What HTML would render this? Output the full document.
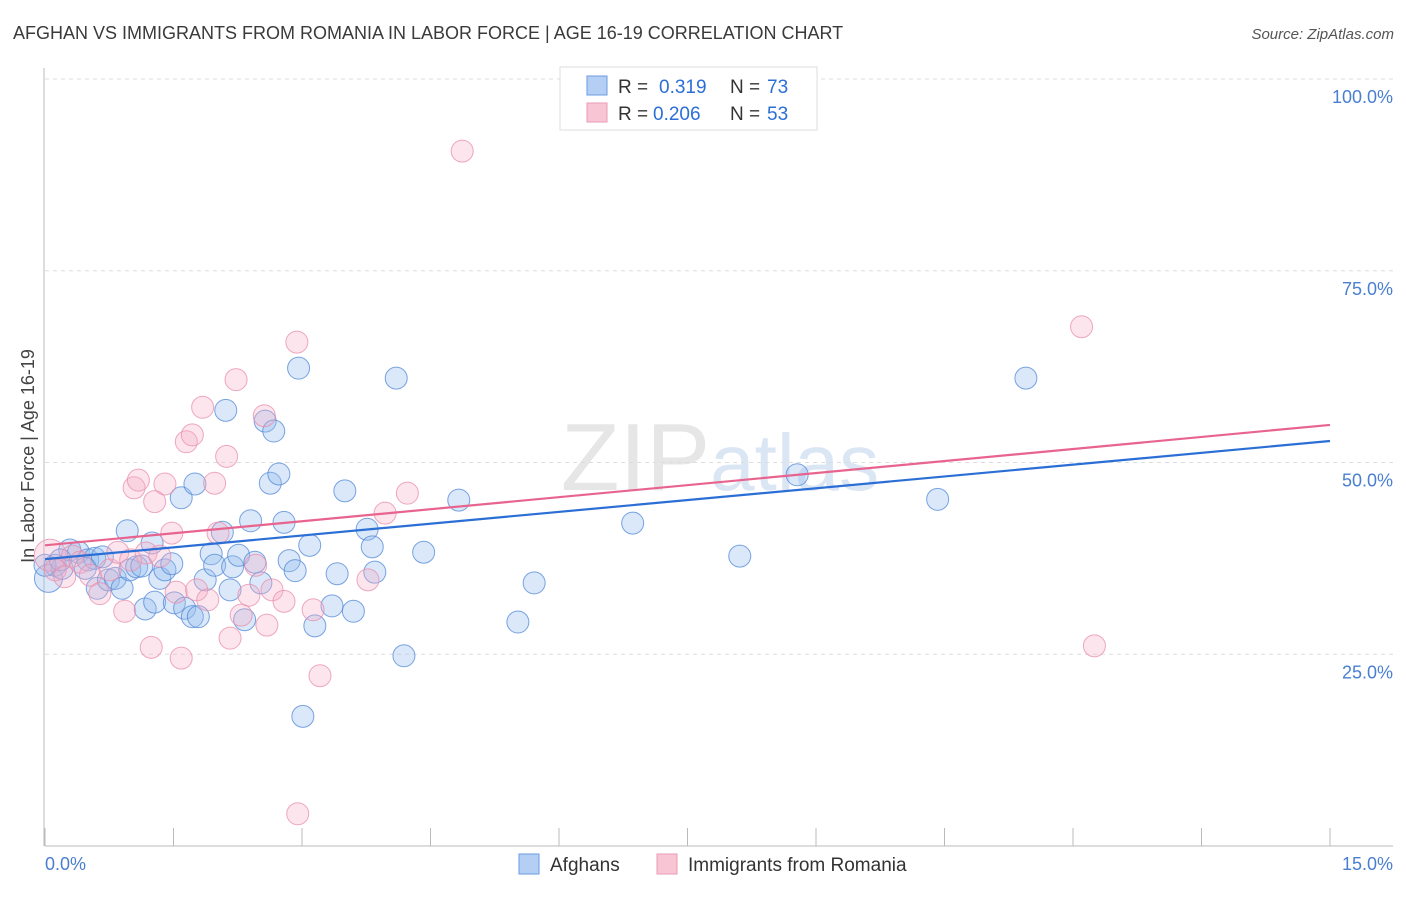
<!DOCTYPE html>
<html><head><meta charset="utf-8"><style>
body{margin:0;background:#fff;font-family:"Liberation Sans",sans-serif;}
svg text{font-family:"Liberation Sans",sans-serif;}
</style></head><body>
<svg id="chart" width="1406" height="892" viewBox="0 0 1406 892" xmlns="http://www.w3.org/2000/svg">
<text x="13" y="39" font-size="18" fill="#3a3a3a">AFGHAN VS IMMIGRANTS FROM ROMANIA IN LABOR FORCE | AGE 16-19 CORRELATION CHART</text>
<text x="1394" y="39" font-size="15" fill="#555" text-anchor="end" font-style="italic">Source: ZipAtlas.com</text>
<text x="720" y="490" font-size="96" fill="#e6e6e6" text-anchor="middle" font-family="Liberation Serif">ZIP<tspan fill="#dbe6f4" font-family="Liberation Sans" font-size="80">atlas</tspan></text>
<g id="grid"></g>
<g id="axes"></g>
<g id="pts"></g>
<g id="lines"></g>
<text transform="translate(34,456) rotate(-90)" font-size="18" fill="#444" text-anchor="middle">In Labor Force | Age 16-19</text>
<text x="45" y="870" font-size="18" fill="#4a7fd0">0.0%</text>
<text x="1393" y="870" font-size="18" fill="#4a7fd0" text-anchor="end">15.0%</text>
<g>
<rect x="560" y="67" width="257" height="63" fill="#fff" stroke="#ddd"/>
<rect x="587" y="76" width="20" height="19" fill="#b4cff3" stroke="#6b9be0"/>
<rect x="587" y="103" width="20" height="19" fill="#f8c5d4" stroke="#ec9ab4"/>
<text x="618" y="93" font-size="19" fill="#333">R =</text>
<text x="659" y="93" font-size="19" fill="#2b6fd6">0.319</text>
<text x="730" y="93" font-size="19" fill="#333">N =</text>
<text x="767" y="93" font-size="19" fill="#2b6fd6">73</text>
<text x="618" y="120" font-size="19" fill="#333">R =</text>
<text x="653" y="120" font-size="19" fill="#2b6fd6">0.206</text>
<text x="730" y="120" font-size="19" fill="#333">N =</text>
<text x="767" y="120" font-size="19" fill="#2b6fd6">53</text>
</g>
<g>
<rect x="519" y="854" width="20" height="20" fill="#b4cff3" stroke="#6b9be0"/>
<text x="550" y="871" font-size="19" fill="#333">Afghans</text>
<rect x="657" y="854" width="20" height="20" fill="#f8c5d4" stroke="#ec9ab4"/>
<text x="688" y="871" font-size="19" fill="#333">Immigrants from Romania</text>
</g>
</svg>
<script>
const yTicks=[100,75,50,25];
const yTickLabels=["100.0%","75.0%","50.0%","25.0%"];
const xTicks=[0,1.5,3,4.5,6,7.5,9,10.5,12,13.5,15];
const blueX=[0.04,0.12,0.20,0.29,0.39,0.50,0.58,0.67,0.61,0.74,0.82,0.90,0.96,0.99,1.07,1.13,1.17,1.25,1.28,1.34,1.40,1.48,1.51,1.59,1.63,1.72,1.75,1.79,1.87,1.94,1.98,2.07,2.11,2.16,2.19,2.26,2.33,2.40,2.45,2.52,2.57,2.63,2.67,2.73,2.79,2.85,2.92,2.96,3.01,3.09,3.15,3.35,3.41,3.50,3.60,3.76,3.82,3.85,4.10,4.19,4.42,4.83,5.52,5.71,6.86,8.11,8.78,10.42,11.45,0.0,0.18,0.47];
const blueY=[34.9,36.6,36.2,38.6,38.3,37.3,37.5,37.7,33.6,34.7,34.9,33.6,41.1,36.0,36.4,36.5,30.9,39.5,31.8,34.9,36.0,36.8,31.7,45.4,31.0,29.9,47.2,29.9,34.7,38.1,36.6,40.9,56.8,33.4,36.4,37.9,29.5,42.4,37.0,34.3,55.4,47.3,54.1,48.5,42.2,37.2,35.9,62.3,16.9,39.2,28.7,31.3,35.5,46.3,30.6,41.3,39.0,35.7,61.0,24.8,38.3,45.1,29.2,34.3,42.1,37.8,48.4,45.2,61.0,36.6,37.3,36.2];
const pinkX=[0.06,0.12,0.23,0.32,0.41,0.53,0.64,0.76,0.85,0.93,1.00,1.04,1.09,1.18,1.24,1.28,1.34,1.40,1.48,1.53,1.59,1.65,1.72,1.77,1.84,1.90,1.98,2.02,2.12,2.16,2.23,2.29,2.38,2.46,2.56,2.59,2.65,2.79,2.94,2.95,3.13,3.21,3.77,3.97,4.23,4.87,12.10,12.25];
const pinkY=[37.9,36.0,35.1,37.8,37.0,35.3,32.9,36.0,38.3,30.6,37.3,46.7,47.7,38.2,25.9,44.9,37.8,47.2,40.8,33.1,24.5,52.7,53.6,33.4,57.2,32.1,47.3,40.8,50.8,27.1,60.8,30.1,32.7,36.6,56.1,28.8,33.4,31.9,65.7,4.2,30.8,22.2,34.7,43.4,46.0,90.6,67.7,26.1];
const blueTrend=[37.4,52.8];
const pinkTrend=[39.2,54.9];
const NS="http://www.w3.org/2000/svg";
const X=v=>45+v/15*1285;
const Y=v=>846-v/100*767;
function mk(tag,attrs,parent){const e=document.createElementNS(NS,tag);for(const k in attrs)e.setAttribute(k,attrs[k]);document.getElementById(parent).appendChild(e);return e;}
yTicks.forEach((t,i)=>{
 const l=mk('line',{x1:45,x2:1393,y1:Y(t),y2:Y(t),stroke:'#ddd','stroke-dasharray':'4,4'},'grid');
 
 
 const tx=mk('text',{x:1393,y:Y(t)+24,'font-size':18,fill:'#4a7fd0','text-anchor':'end'},'grid');
 tx.textContent=yTickLabels[i];
 
 
});
const ya=mk('line',{x1:44,x2:44,y1:68,y2:846,stroke:'#bbb'},'axes');


const xa=mk('line',{x1:45,x2:1393,y1:846,y2:846,stroke:'#bbb'},'axes');


xTicks.forEach(t=>{
 const l=mk('line',{x1:X(t),x2:X(t),y1:828,y2:846,stroke:'#bbb'},'axes');
 
 
});
blueX.forEach((v,i)=>{
 const c=mk('circle',{cx:X(v),cy:Y(blueY[i]),r:(i===0?14:11),fill:'rgba(150,188,238,0.35)',stroke:'rgba(80,135,215,0.75)','stroke-width':1},'pts');
 
 
});
pinkX.forEach((v,i)=>{
 const c=mk('circle',{cx:X(v),cy:Y(pinkY[i]),r:(i===0?16:11),fill:'rgba(245,175,198,0.32)',stroke:'rgba(232,140,172,0.75)','stroke-width':1},'pts');
 
 
});
const bl=mk('line',{x1:X(0),x2:X(15),y1:Y(blueTrend[0]),y2:Y(blueTrend[1]),stroke:'#2b6fd6','stroke-width':2.2},'lines');


const pl=mk('line',{x1:X(0),x2:X(15),y1:Y(pinkTrend[0]),y2:Y(pinkTrend[1]),stroke:'#e8648e','stroke-width':2.2},'lines');


</script>
</body></html>
